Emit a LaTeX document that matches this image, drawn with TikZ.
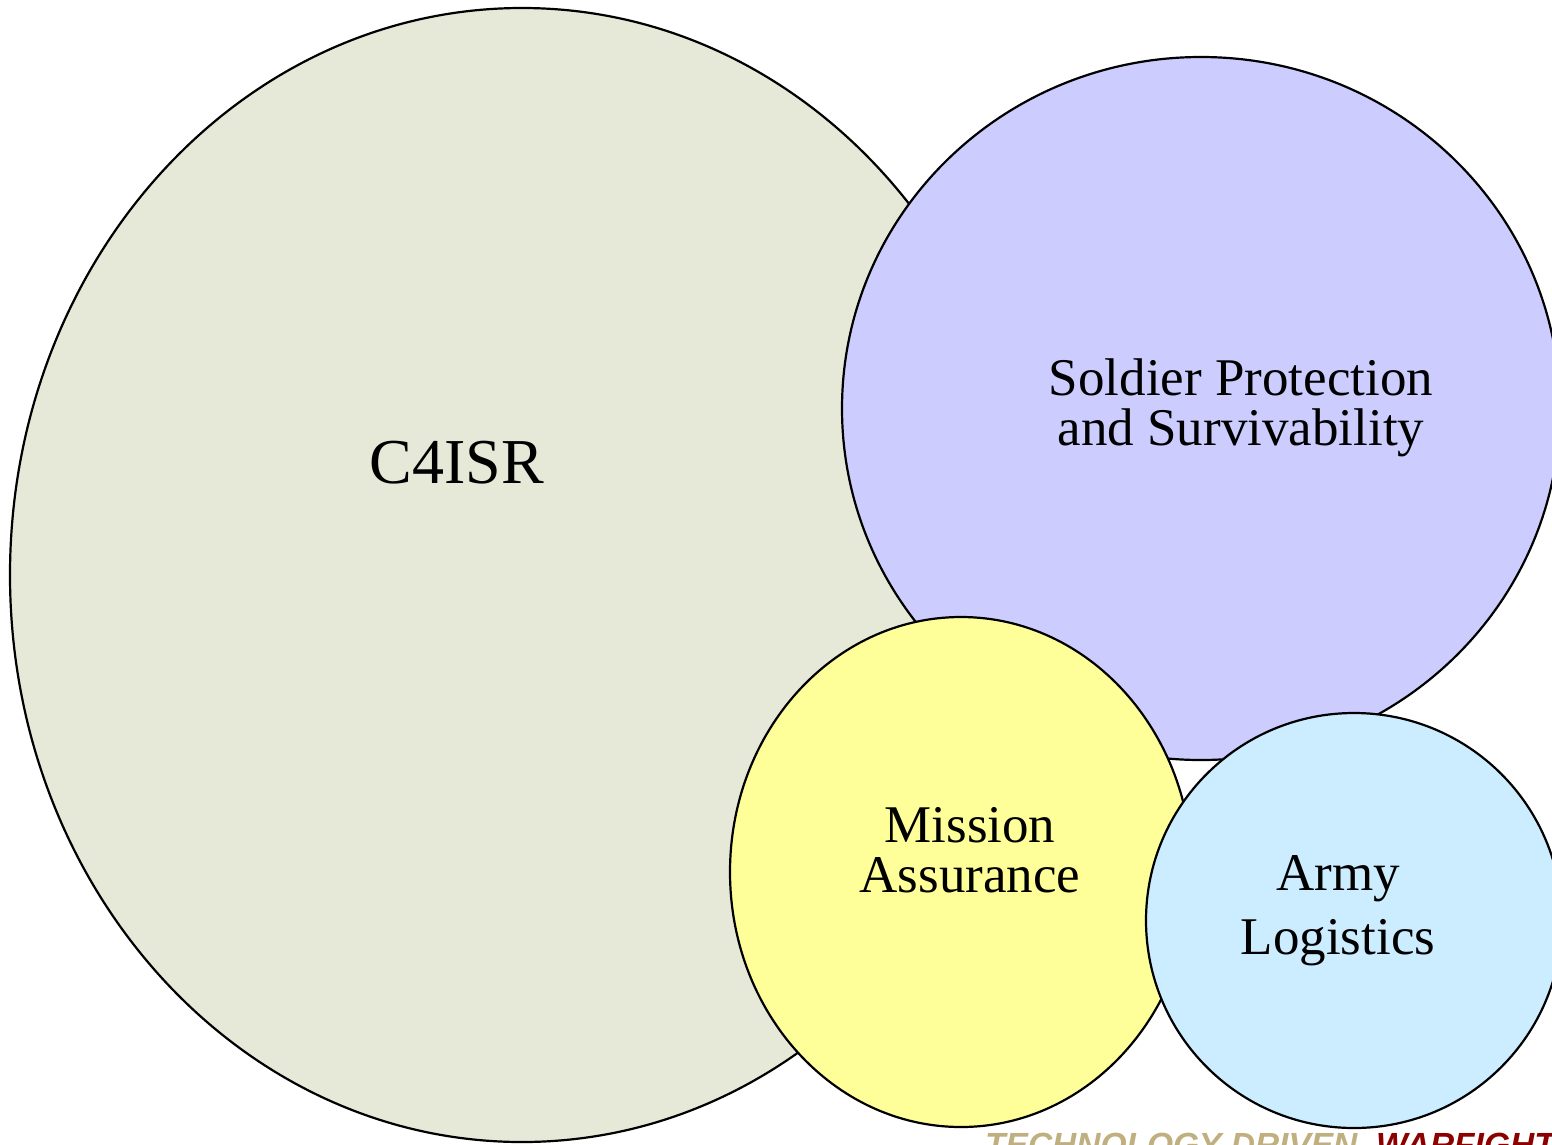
\documentclass[tikz,border=0pt]{standalone}
\usepackage{fontspec}
\setmainfont{Liberation Serif}
\newfontfamily\tagfont{Liberation Sans}
\definecolor{cfour}{RGB}{230,233,216}
\definecolor{soldier}{RGB}{204,204,255}
\definecolor{mission}{RGB}{255,255,153}
\definecolor{army}{RGB}{204,236,255}
\definecolor{tan}{RGB}{192,176,128}
\definecolor{darkred}{RGB}{140,0,0}
\begin{document}
\begin{tikzpicture}[x=1pt,y=-1pt,
  blob/.style={draw=black,line width=2.2pt},
  lbl/.style={align=center,inner sep=0pt,font=\fontsize{53}{51}\selectfont,anchor=base}]
\useasboundingbox (0,0) rectangle (1552,1144);
\clip (0,0) rectangle (1552,1144);
\fill[white] (0,0) rectangle (1552,1144);
\path[blob,fill=cfour] (522,575) ellipse [x radius=512,y radius=567];
\path[blob,fill=soldier] (1201,408.5) ellipse [x radius=359,y radius=351.5];
\path[blob,fill=mission] (961,872) ellipse [x radius=231,y radius=255];
\path[blob,fill=army] (1354,920.5) ellipse [x radius=208,y radius=207.5];
\node[lbl,font=\fontsize{64}{70}\selectfont] (c4isr) at (457,483) {C4ISR};
\node[lbl] (sps) at (1241,395) {Soldier Protection};
\node[lbl] (sps2) at (1241,445) {and Survivability};
\node[lbl] (ma) at (970,842) {Mission};
\node[lbl] (ma2) at (970,892) {Assurance};
\node[lbl] (al) at (1338,890) {Army};
\node[lbl] (al2) at (1338,954) {Logistics};
\node[inner sep=0pt,anchor=north west,font=\tagfont\bfseries\itshape\fontsize{33.5}{36}\selectfont] (tag) at (985,1133)
  {\textcolor{tan}{TECHNOLOGY DRIVEN.} \textcolor{darkred}{WARFIGHTER FOCUSED.}};
\end{tikzpicture}
\end{document}
